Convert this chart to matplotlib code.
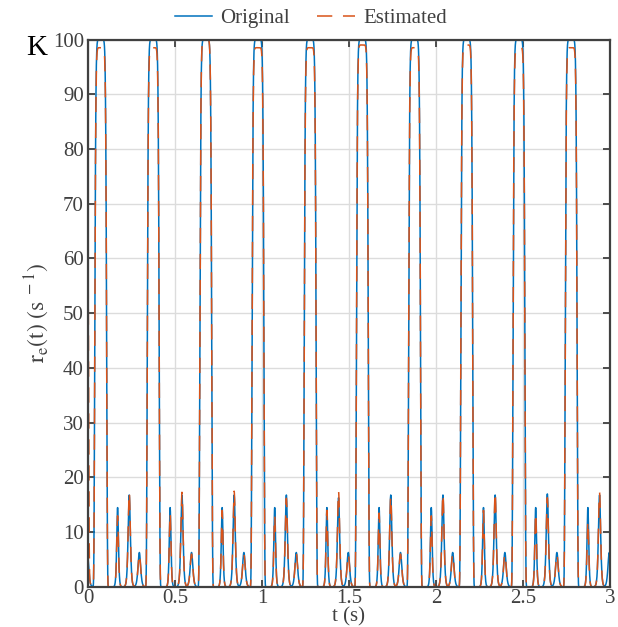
import numpy as np
import matplotlib
matplotlib.use("Agg")
import matplotlib.pyplot as plt
from matplotlib.ticker import MultipleLocator, FormatStrFormatter

# values (time in s, rate in 1/s)
# big saturated bursts: centre, height
burst_t = [0.073, 0.375, 0.677, 0.977, 1.277, 1.577, 1.877, 2.177, 2.477, 2.777]
orig_burst_h = [100, 100, 100, 100, 100, 100, 100, 100, 100, 100]
est_burst_h = [98.5, 98.5, 100, 98.5, 98.5, 99.0, 98.5, 99.0, 98.5, 98.5]

# small peaks after each burst: A (~14), B (~17), C (~6)
peakA_t = [0.170, 0.472, 0.771, 1.073, 1.373, 1.673, 1.973, 2.273, 2.573, 2.873]
peakB_t = [0.237, 0.540, 0.840, 1.140, 1.440, 1.740, 2.040, 2.340, 2.640, 2.940]
peakC_t = [-0.004, 0.295, 0.595, 0.896, 1.197, 1.496, 1.796, 2.096, 2.396, 2.695, 2.996]
orig_A = [14.5, 14.5, 14.5, 14.5, 14.5, 14.5, 14.5, 14.5, 14.5, 14.5]
orig_B = [16.8, 16.8, 16.8, 16.8, 16.3, 16.8, 16.8, 16.8, 17.0, 16.8]
orig_C = [6.3, 6.3, 6.3, 6.3, 6.3, 6.3, 6.3, 6.3, 6.3, 6.3, 6.3]
est_A = [13.0, 13.5, 14.0, 13.0, 14.0, 13.5, 13.0, 14.0, 13.5, 12.0]
est_B = [17.3, 17.3, 17.5, 16.2, 17.5, 16.5, 17.0, 17.3, 16.3, 17.3]
est_C = [6.0, 6.0, 6.0, 6.0, 6.2, 6.0, 6.0, 6.0, 6.0, 6.0, 1.0]
# estimate starts high (~62) at t=0 and drops to ~0 within 0.01 s
est_onset_t, est_onset_h = -0.0324, 98.5

BLUE, ORANGE = "#0072BD", "#D95319"


def burst(t, c, h, w=0.035, p=9):
    return h * np.exp(-np.abs((t - c) / w) ** p)


def peak(t, c, h, s):
    return h / np.cosh((t - c) / s) ** 2


def rate(t, bh, A, B, C, onset=None):
    r = np.zeros_like(t)
    for c, h in zip(burst_t, bh):
        r += burst(t, c, h)
    for c, h in zip(peakA_t, A):
        r += peak(t, c, h, 0.0065)
    for c, h in zip(peakB_t, B):
        r += peak(t, c, h, 0.0085)
    for c, h in zip(peakC_t, C):
        r += peak(t, c, h, 0.010)
    if onset is not None:
        r += burst(t, *onset)
    return np.minimum(r, 100)


t = np.linspace(0, 3, 6001)
r_orig = rate(t, orig_burst_h, orig_A, orig_B, orig_C)
r_est = rate(t, est_burst_h, est_A, est_B, est_C, (est_onset_t, est_onset_h))

plt.rcParams["font.family"] = ["Liberation Serif", "DejaVu Serif"]
plt.rcParams["mathtext.fontset"] = "stix"
GRAY = "#404040"

fig = plt.figure(figsize=(6.18, 6.27), dpi=100)
ax = fig.add_axes([0.1424, 0.0638, 0.8446, 0.8732])
ax.plot(t, r_orig, color=BLUE, lw=1.1, label="Original")
ln, = ax.plot(t, r_est, color=ORANGE, lw=1.1, label="Estimated")
ln.set_dashes([10, 7])

ax.set_xlim(0, 3); ax.set_ylim(0, 100)
ax.xaxis.set_major_locator(MultipleLocator(0.5))
ax.xaxis.set_major_formatter(FormatStrFormatter("%g"))
ax.yaxis.set_major_locator(MultipleLocator(10))
ax.grid(True, color="#dcdcdc", lw=1)
ax.set_axisbelow(True)
ax.tick_params(direction="in", length=5, width=1.3, colors=GRAY, labelsize=15,
               top=True, right=True, pad=3)
ax.tick_params(axis="x", pad=1.5)
for sp in ax.spines.values():
    sp.set_color(GRAY); sp.set_linewidth(1.6)

ax.set_xlabel("t (s)", fontsize=15, color=GRAY, labelpad=-0.5)
ax.set_ylabel(r"$\mathrm{r_e(t)\ (s^{\ -1})}$", fontsize=17, color=GRAY, labelpad=1)
fig.text(0.042, 0.913, "K", fontsize=21, color="black")

fig.legend(loc="center", bbox_to_anchor=(0.503, 0.971), ncol=2, frameon=False,
           fontsize=15, handlelength=1.8, handletextpad=0.4, columnspacing=1.3,
           borderaxespad=0.0, labelcolor=GRAY)

fig.savefig("out.png", dpi=100)
